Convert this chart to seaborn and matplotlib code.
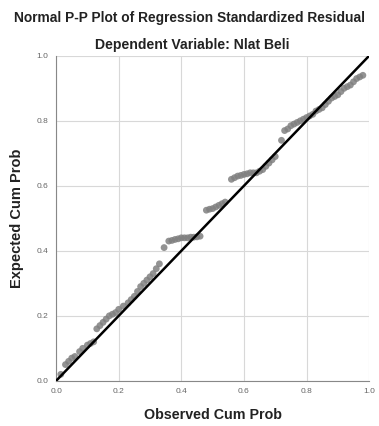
import matplotlib
matplotlib.use("Agg")
import matplotlib.pyplot as plt
import seaborn as sns
import pandas as pd

# Observed vs expected cumulative probabilities
observed = [0.015, 0.03, 0.04, 0.05, 0.06, 0.075, 0.085, 0.10, 0.11, 0.12,
            0.13, 0.14, 0.15, 0.16, 0.17, 0.18, 0.19, 0.20, 0.215, 0.23,
            0.24, 0.25, 0.26, 0.27, 0.28, 0.29, 0.30, 0.31, 0.32, 0.33,
            0.345, 0.36, 0.37, 0.38, 0.39, 0.40, 0.41, 0.42, 0.43, 0.44,
            0.45, 0.46, 0.48, 0.49, 0.50, 0.51, 0.52, 0.53, 0.54, 0.56,
            0.57, 0.58, 0.59, 0.60, 0.61, 0.62, 0.63, 0.64, 0.65, 0.66,
            0.67, 0.68, 0.69, 0.70, 0.72, 0.73, 0.74, 0.75, 0.76, 0.77,
            0.78, 0.79, 0.80, 0.81, 0.82, 0.83, 0.84, 0.85, 0.86, 0.87,
            0.88, 0.89, 0.90, 0.91, 0.92, 0.93, 0.94, 0.95, 0.96, 0.97,
            0.98]
expected = [0.02, 0.05, 0.06, 0.07, 0.075, 0.09, 0.10, 0.11, 0.115, 0.12,
            0.16, 0.17, 0.18, 0.19, 0.20, 0.205, 0.21, 0.22, 0.23, 0.24,
            0.25, 0.26, 0.275, 0.29, 0.30, 0.31, 0.32, 0.33, 0.345, 0.36,
            0.41, 0.43, 0.432, 0.435, 0.437, 0.44, 0.44, 0.44, 0.442, 0.442,
            0.443, 0.445, 0.525, 0.528, 0.53, 0.535, 0.54, 0.545, 0.55, 0.62,
            0.625, 0.63, 0.632, 0.635, 0.637, 0.64, 0.64, 0.64, 0.645, 0.65,
            0.66, 0.67, 0.68, 0.69, 0.74, 0.77, 0.775, 0.785, 0.79, 0.795,
            0.80, 0.805, 0.81, 0.815, 0.82, 0.83, 0.835, 0.84, 0.85, 0.86,
            0.87, 0.875, 0.88, 0.89, 0.90, 0.905, 0.91, 0.92, 0.93, 0.935,
            0.94]
ref_line = [0.0, 1.0]
ticks = [0.0, 0.2, 0.4, 0.6, 0.8, 1.0]

df = pd.DataFrame({'observed': observed, 'expected': expected})

sns.set_style('white')
plt.rcParams['font.family'] = ['Liberation Sans', 'DejaVu Sans']

fig = plt.figure(figsize=(3.79, 4.26), dpi=100)
ax = fig.add_axes([0.148, 0.106, 0.826, 0.763])

ax.grid(True, color='#d8d8d8', linewidth=0.8)
ax.set_axisbelow(True)

sns.scatterplot(data=df, x='observed', y='expected', ax=ax, color='#808080',
                s=24, edgecolor='none', alpha=0.85, zorder=2)
sns.lineplot(x=ref_line, y=ref_line, ax=ax, color='black', linewidth=1.8, zorder=3)

ax.set_xlim(0, 1)
ax.set_ylim(0, 1)
ax.set_xticks(ticks)
ax.set_yticks(ticks)
ax.set_xticklabels([f'{t:.1f}' for t in ticks])
ax.set_yticklabels([f'{t:.1f}' for t in ticks])
ax.tick_params(axis='both', labelsize=6, colors='#666666', length=2, width=0.6)

for side in ['top', 'right']:
    ax.spines[side].set_visible(False)
for side in ['left', 'bottom']:
    ax.spines[side].set_color('#888888')
    ax.spines[side].set_linewidth(0.8)

ax.set_xlabel('Observed Cum Prob', fontsize=10.3, fontweight='bold', color='#222222', labelpad=9)
ax.set_ylabel('Expected Cum Prob', fontsize=10.5, fontweight='bold', color='#222222', labelpad=9)

fig.text(0.5, 0.957, 'Normal P-P Plot of Regression Standardized Residual',
         ha='center', va='center', fontsize=9.9, fontweight='bold', color='#222222')
fig.text(0.507, 0.894, 'Dependent Variable: Nlat Beli',
         ha='center', va='center', fontsize=10.1, fontweight='bold', color='#222222')

fig.savefig('out.png', dpi=100)
